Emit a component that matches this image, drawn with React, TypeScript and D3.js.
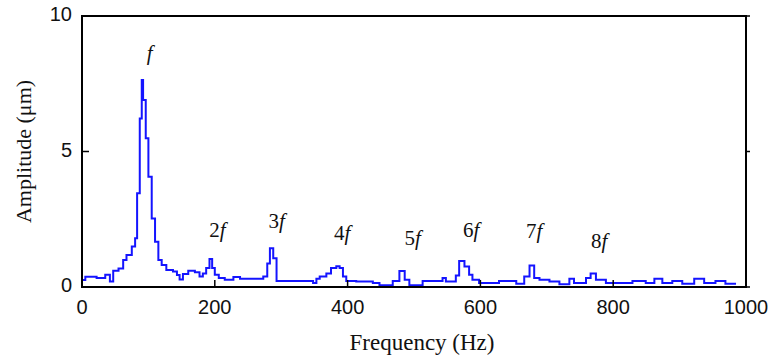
import React, { useEffect, useRef } from "react";
import * as d3 from "d3";

// Spectrum: step start frequency (Hz) and amplitude (µm)
const freqs = [0, 5, 22, 35, 42, 47, 55, 62, 67, 75, 80, 83, 87, 90, 92, 96, 100, 105, 110, 115, 120, 127, 137, 143, 147, 152, 160, 170, 177, 182, 187, 192, 196, 200, 206, 215, 228, 238, 273, 279, 283, 288, 293, 348, 353, 358, 368, 375, 383, 388, 393, 398, 413, 438, 448, 468, 478, 486, 493, 513, 543, 548, 563, 568, 576, 583, 588, 598, 628, 654, 666, 674, 681, 689, 704, 719, 734, 741, 759, 766, 774, 789, 829, 849, 862, 874, 889, 904, 922, 937, 954, 969, 985];
const amps = [0.26, 0.38, 0.33, 0.45, 0.2, 0.6, 0.68, 1.0, 1.18, 1.49, 1.8, 3.46, 6.22, 7.64, 6.9, 5.49, 4.07, 2.53, 1.67, 1.0, 0.81, 0.63, 0.57, 0.44, 0.28, 0.48, 0.6, 0.54, 0.39, 0.5, 0.7, 1.03, 0.7, 0.45, 0.33, 0.27, 0.37, 0.3, 0.39, 0.87, 1.43, 1.06, 0.22, 0.15, 0.3, 0.39, 0.5, 0.7, 0.77, 0.7, 0.39, 0.22, 0.2, 0.15, 0.06, 0.22, 0.59, 0.27, 0.06, 0.22, 0.33, 0.2, 0.42, 0.96, 0.76, 0.45, 0.27, 0.15, 0.22, 0.12, 0.39, 0.79, 0.33, 0.27, 0.2, 0.1, 0.3, 0.15, 0.33, 0.5, 0.27, 0.15, 0.22, 0.15, 0.3, 0.15, 0.22, 0.12, 0.3, 0.15, 0.22, 0.12, 0.12];

const xTicks = [0, 200, 400, 600, 800, 1000];
const yTicks = [0, 5, 10];

// Harmonic labels: [prefix, x (Hz), y (µm)]
const harmLabels = ["", "2", "3", "4", "5", "6", "7", "8"];
const harmX = [102, 204, 293, 392, 498, 586, 681, 779];
const harmY = [8.38, 1.85, 2.18, 1.73, 1.55, 1.85, 1.81, 1.44];

const W = 770;
const H = 356;
const M = { left: 82, right: 24, top: 16, bottom: 69 };

export default function App() {
  const ref = useRef<SVGSVGElement | null>(null);

  useEffect(() => {
    const svg = d3.select(ref.current);
    svg.selectAll("*").remove();

    const x = d3.scaleLinear().domain([0, 1000]).range([M.left, W - M.right]);
    const y = d3.scaleLinear().domain([0, 10]).range([H - M.bottom, M.top]);

    const data = freqs.map((f, i) => ({ f, a: amps[i] }));
    const line = d3
      .line<{ f: number; a: number }>()
      .x((d) => x(d.f))
      .y((d) => y(d.a))
      .curve(d3.curveStepAfter);

    svg
      .append("path")
      .attr("d", line(data) as string)
      .attr("fill", "none")
      .attr("stroke", "#1414ff")
      .attr("stroke-width", 2)
      .attr("stroke-linejoin", "miter");

    // Box
    svg
      .append("rect")
      .attr("x", x(0))
      .attr("y", y(10))
      .attr("width", x(1000) - x(0))
      .attr("height", y(0) - y(10))
      .attr("fill", "none")
      .attr("stroke", "#000")
      .attr("stroke-width", 2);

    // x ticks
    const xt = svg.append("g");
    xTicks.forEach((t) => {
      xt.append("line")
        .attr("x1", x(t))
        .attr("x2", x(t))
        .attr("y1", y(0))
        .attr("y2", y(0) - 7)
        .attr("stroke", "#000")
        .attr("stroke-width", 1.5);
      xt.append("text")
        .attr("x", x(t))
        .attr("y", y(0) + 22)
        .attr("text-anchor", "middle")
        .attr("dominant-baseline", "middle")
        .attr("font-family", "Liberation Sans, Arial, sans-serif")
        .attr("font-size", 20)
        .attr("fill", "#111")
        .text(String(t));
    });

    // y ticks
    const yt = svg.append("g");
    yTicks.forEach((t) => {
      yt.append("line")
        .attr("x1", x(0))
        .attr("x2", x(0) + 7)
        .attr("y1", y(t))
        .attr("y2", y(t))
        .attr("stroke", "#000")
        .attr("stroke-width", 1.5);
      yt.append("line")
        .attr("x1", x(1000))
        .attr("x2", x(1000) + 4)
        .attr("y1", y(t))
        .attr("y2", y(t))
        .attr("stroke", "#000")
        .attr("stroke-width", 1.5);
      yt.append("text")
        .attr("x", x(0) - 10)
        .attr("y", y(t))
        .attr("text-anchor", "end")
        .attr("dominant-baseline", "middle")
        .attr("font-family", "Liberation Sans, Arial, sans-serif")
        .attr("font-size", 20)
        .attr("fill", "#111")
        .text(String(t));
    });

    // Axis titles
    svg
      .append("text")
      .attr("x", 422)
      .attr("y", 350)
      .attr("text-anchor", "middle")
      .attr("font-family", "Liberation Serif, Times New Roman, serif")
      .attr("font-size", 23)
      .attr("fill", "#111")
      .text("Frequency (Hz)");

    svg
      .append("text")
      .attr("transform", `translate(31,${(y(0) + y(10)) / 2}) rotate(-90)`)
      .attr("text-anchor", "middle")
      .attr("font-family", "Liberation Serif, Times New Roman, serif")
      .attr("font-size", 22)
      .attr("fill", "#111")
      .text("Amplitude (\u03bcm)");

    // Harmonic labels
    harmLabels.forEach((p, i) => {
      const t = svg
        .append("text")
        .attr("x", x(harmX[i]))
        .attr("y", y(harmY[i]))
        .attr("text-anchor", "middle")
        .attr("font-family", "Liberation Serif, Times New Roman, serif")
        .attr("font-size", 21)
        .attr("fill", "#111");
      if (p) t.append("tspan").text(p);
      t.append("tspan").attr("font-style", "italic").text("f");
    });
  }, []);

  return (
    <svg
      ref={ref}
      width={W}
      height={H}
      style={{ position: "absolute", left: 0, top: 0, background: "#fff" }}
    />
  );
}
